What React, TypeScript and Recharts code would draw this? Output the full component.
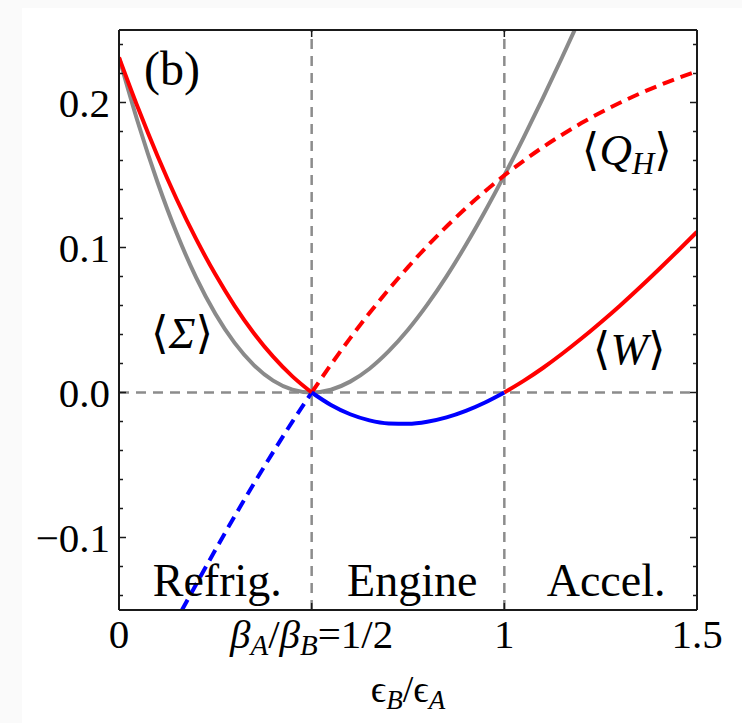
import { LineChart, Line, XAxis, YAxis, ReferenceLine, ReferenceDot } from "recharts";

const SERIF = "'Liberation Serif', 'Times New Roman', 'DejaVu Serif', serif";
const FRAME = "#1a1a1a";

// epsilon_B / epsilon_A
const xValues = [
  0, 0.05, 0.1, 0.15, 0.2, 0.25, 0.3, 0.35, 0.4, 0.45, 0.5, 0.55, 0.6, 0.65, 0.7, 0.75,
  0.8, 0.85, 0.9, 0.95, 1, 1.05, 1.1, 1.15, 1.2, 1.25, 1.3, 1.35, 1.4, 1.45, 1.5,
];

// <Q_H>
const heatValues = [
  -0.2311, -0.2061, -0.1812, -0.1566, -0.1324, -0.1086, -0.0854, -0.0629, -0.0411, -0.0201, 0,
  0.0192, 0.0375, 0.0548, 0.0711, 0.0865, 0.101, 0.1145, 0.1271, 0.1388, 0.1497, 0.1598, 0.1692,
  0.1778, 0.1858, 0.1931, 0.1998, 0.206, 0.2116, 0.2168, 0.2215,
];

// <W>
const workValues = [
  0.2311, 0.1958, 0.1631, 0.1331, 0.1059, 0.0815, 0.0598, 0.0409, 0.0247, 0.0111, 0, -0.0086,
  -0.015, -0.0192, -0.0213, -0.0216, -0.0202, -0.0172, -0.0127, -0.0069, 0, 0.008, 0.0169, 0.0267,
  0.0372, 0.0483, 0.0599, 0.0721, 0.0847, 0.0976, 0.1108,
];

// <Sigma> (leaves the frame after ~1.18)
const entropyValues = [
  0.2311, 0.1855, 0.145, 0.1096, 0.0794, 0.0543, 0.0342, 0.0189, 0.0082, 0.002, 0, 0.0019, 0.0075,
  0.0164, 0.0285, 0.0433, 0.0606, 0.0801, 0.1017, 0.125, 0.1497, 0.1758, 0.203, 0.2312, 0.2601,
];

const xTicks = [0, 0.5, 1, 1.5];
const xTickLabels = ["0", "βA/βB=1/2", "1", "1.5"];
const yMajorTicks = [-0.1, 0, 0.1, 0.2];
const yTickLabels = ["−0.1", "0.0", "0.1", "0.2"];
const yMinorTicks = [
  -0.14, -0.12, -0.1, -0.08, -0.06, -0.04, -0.02, 0, 0.02, 0.04, 0.06, 0.08, 0.1, 0.12, 0.14,
  0.16, 0.18, 0.2, 0.22, 0.24,
];
const regionLabels = ["Refrig.", "Engine", "Accel."];
const regionCenters = [0.255, 0.761, 1.264];

const rows = xValues.map((x, i) => ({
  x,
  qhCold: x <= 0.5 ? heatValues[i] : null,
  qhHot: x >= 0.5 ? heatValues[i] : null,
  wLeft: x <= 0.5 ? workValues[i] : null,
  wMid: x >= 0.5 && x <= 1 ? workValues[i] : null,
  wRight: x >= 1 ? workValues[i] : null,
  sigma: i < entropyValues.length ? entropyValues[i] : null,
}));

function LeftTick(props: any) {
  const { x, y, payload } = props;
  const idx = yMajorTicks.indexOf(payload.value);
  return (
    <g>
      <line x1={x} x2={x + (idx >= 0 ? 7 : 4)} y1={y} y2={y} stroke={FRAME} strokeWidth={1.5} />
      {idx >= 0 && (
        <text x={x - 9} y={y} dy={14} textAnchor="end" fontSize={41} fontFamily={SERIF} fill="#000">
          {yTickLabels[idx]}
        </text>
      )}
    </g>
  );
}

function RightTick(props: any) {
  const { x, y, payload } = props;
  const major = yMajorTicks.indexOf(payload.value) >= 0;
  return <line x1={x} x2={x - (major ? 7 : 4)} y1={y} y2={y} stroke={FRAME} strokeWidth={1.5} />;
}

function TopTick(props: any) {
  const { x, y } = props;
  return <line x1={x} x2={x} y1={y} y2={y + 7} stroke={FRAME} strokeWidth={1.5} />;
}

function BottomTick(props: any) {
  const { x, y, payload } = props;
  const idx = xTicks.indexOf(payload.value);
  const sub = { fontSize: 29, fontStyle: "italic" as const };
  return (
    <g>
      <line x1={x} x2={x} y1={y} y2={y - 7} stroke={FRAME} strokeWidth={1.5} />
      <text x={x} y={y} dy={38} textAnchor="middle" fontSize={41} fontFamily={SERIF} fill="#000">
        {idx === 1 ? (
          <>
            <tspan fontStyle="italic">β</tspan>
            <tspan {...sub} dy={7}>A</tspan>
            <tspan dy={-7}>/</tspan>
            <tspan fontStyle="italic">β</tspan>
            <tspan {...sub} dy={7}>B</tspan>
            <tspan dy={-7}>=1/2</tspan>
          </>
        ) : (
          xTickLabels[idx]
        )}
      </text>
    </g>
  );
}

function AxisTitle(props: any) {
  const vb = props.viewBox;
  return (
    <text x={vb.x + vb.width / 2} y={702} textAnchor="middle" fontSize={38} fontFamily={SERIF} fill="#000">
      <tspan>ϵ</tspan>
      <tspan fontSize={27} fontStyle="italic" dy={7}>B</tspan>
      <tspan dy={-7}>/ϵ</tspan>
      <tspan fontSize={27} fontStyle="italic" dy={7}>A</tspan>
    </text>
  );
}

function textAt(content: React.ReactNode, size = 45) {
  return (props: any) => {
    const vb = props.viewBox;
    return (
      <text x={vb.x} y={vb.y} dy="0.35em" textAnchor="middle" fontSize={size} fontFamily={SERIF} fill="#000">
        {content}
      </text>
    );
  };
}

export default function App() {
  return (
    <div style={{ position: "absolute", left: 0, top: 0, width: 742, height: 723, background: "#fafafa" }}>
      <div style={{ position: "absolute", left: 22, top: 8, right: 0, bottom: 0, background: "#fff" }} />
      <div style={{ position: "absolute", left: 0, top: 0 }}>
        <LineChart width={742} height={723} data={rows} margin={{ top: 28, right: 43, bottom: 43, left: 9 }}>
          <XAxis
            xAxisId="x"
            dataKey="x"
            type="number"
            domain={[0, 1.5]}
            ticks={xTicks}
            interval={0}
            allowDataOverflow
            height={70}
            tickSize={0}
            tickMargin={0}
            tickLine={false}
            axisLine={{ stroke: FRAME, strokeWidth: 2 }}
            tick={BottomTick}
            label={AxisTitle}
          />
          <XAxis
            xAxisId="xt"
            dataKey="x"
            type="number"
            orientation="top"
            domain={[0, 1.5]}
            ticks={[0.5, 1]}
            interval={0}
            allowDataOverflow
            height={2}
            tickSize={0}
            tickMargin={0}
            tickLine={false}
            axisLine={{ stroke: FRAME, strokeWidth: 2 }}
            tick={TopTick}
          />
          <YAxis
            yAxisId="y"
            type="number"
            domain={[-0.15, 0.25]}
            ticks={yMinorTicks}
            interval={0}
            allowDataOverflow
            width={110}
            tickSize={0}
            tickMargin={0}
            tickLine={false}
            axisLine={{ stroke: FRAME, strokeWidth: 2 }}
            tick={LeftTick}
          />
          <YAxis
            yAxisId="yr"
            orientation="right"
            type="number"
            domain={[-0.15, 0.25]}
            ticks={yMinorTicks}
            interval={0}
            allowDataOverflow
            width={2}
            tickSize={0}
            tickMargin={0}
            tickLine={false}
            axisLine={{ stroke: FRAME, strokeWidth: 2 }}
            tick={RightTick}
          />

          <ReferenceLine xAxisId="x" yAxisId="y" x={0.5} stroke="#8c8c8c" strokeWidth={2.5} strokeDasharray="10 7" />
          <ReferenceLine xAxisId="x" yAxisId="y" x={1} stroke="#8c8c8c" strokeWidth={2.5} strokeDasharray="10 7" />
          <ReferenceLine xAxisId="x" yAxisId="y" y={0} stroke="#8c8c8c" strokeWidth={2.5} strokeDasharray="10 7" />

          <Line xAxisId="x" yAxisId="y" dataKey="sigma" type="monotone" stroke="#8a8a8a" strokeWidth={4} dot={false} isAnimationActive={false} />
          <Line xAxisId="x" yAxisId="y" dataKey="qhCold" type="monotone" stroke="#0000ff" strokeWidth={4} strokeDasharray="12 7" dot={false} isAnimationActive={false} />
          <Line xAxisId="x" yAxisId="y" dataKey="qhHot" type="monotone" stroke="#ff0000" strokeWidth={4} strokeDasharray="12 7" dot={false} isAnimationActive={false} />
          <Line xAxisId="x" yAxisId="y" dataKey="wLeft" type="monotone" stroke="#ff0000" strokeWidth={4} dot={false} isAnimationActive={false} />
          <Line xAxisId="x" yAxisId="y" dataKey="wMid" type="monotone" stroke="#0000ff" strokeWidth={4} dot={false} isAnimationActive={false} />
          <Line xAxisId="x" yAxisId="y" dataKey="wRight" type="monotone" stroke="#ff0000" strokeWidth={4} dot={false} isAnimationActive={false} />

          <ReferenceDot xAxisId="x" yAxisId="y" x={0.1375} y={0.2238} r={0} stroke="none" label={textAt("(b)", 48)} />
          <ReferenceDot
            xAxisId="x"
            yAxisId="y"
            x={1.318}
            y={0.168}
            r={0}
            stroke="none"
            label={textAt(
              <>
                <tspan>⟨</tspan>
                <tspan fontStyle="italic">Q</tspan>
                <tspan fontStyle="italic" fontSize={31} dy={9}>H</tspan>
                <tspan dy={-9}>⟩</tspan>
              </>
            )}
          />
          <ReferenceDot
            xAxisId="x"
            yAxisId="y"
            x={1.324}
            y={0.0307}
            r={0}
            stroke="none"
            label={textAt(
              <>
                <tspan>⟨</tspan>
                <tspan fontStyle="italic">W</tspan>
                <tspan>⟩</tspan>
              </>
            )}
          />
          <ReferenceDot
            xAxisId="x"
            yAxisId="y"
            x={0.1635}
            y={0.0417}
            r={0}
            stroke="none"
            label={textAt(
              <>
                <tspan>⟨</tspan>
                <tspan fontStyle="italic">Σ</tspan>
                <tspan>⟩</tspan>
              </>
            )}
          />
          {regionLabels.map((name, i) => (
            <ReferenceDot key={name} xAxisId="x" yAxisId="y" x={regionCenters[i]} y={-0.129} r={0} stroke="none" label={textAt(name, 46)} />
          ))}
        </LineChart>
      </div>
    </div>
  );
}
